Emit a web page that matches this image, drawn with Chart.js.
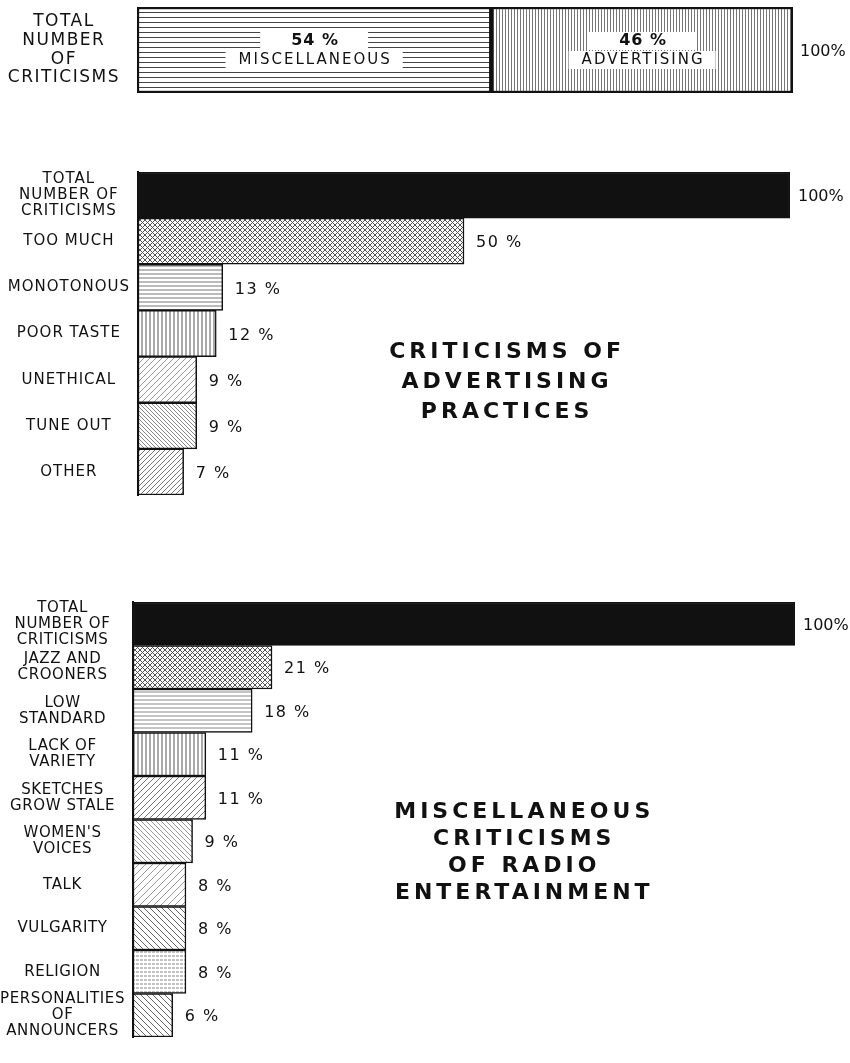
<!DOCTYPE html>
<html>
<head>
<meta charset="utf-8">
<script src="https://cdn.jsdelivr.net/npm/chart.js@4.4.1/dist/chart.umd.min.js"></script>
<style>
    body { margin: 0; background: #fff; }
    #page { position: relative; width: 850px; height: 1063px; overflow: hidden; }
    canvas { position: absolute; left: 0; }
</style>
</head>
<body>
<div id="page">
    <canvas id="split" width="850" height="105" style="top:0"></canvas>
    <canvas id="advertising" width="850" height="345" style="top:160px"></canvas>
    <canvas id="misc" width="850" height="473" style="top:590px"></canvas>
</div>
<script>
// top strip: how all criticisms split
const splitLabel = ['TOTAL', 'NUMBER', 'OF', 'CRITICISMS'];
const splitParts = ['MISCELLANEOUS', 'ADVERTISING'];
const splitShares = [54, 46];

// criticisms of advertising practices
const advLabels = [['TOTAL', 'NUMBER OF', 'CRITICISMS'], 'TOO MUCH', 'MONOTONOUS', 'POOR TASTE', 'UNETHICAL', 'TUNE OUT', 'OTHER'];
const advValues = [100, 50, 13, 12, 9, 9, 7];
const advTitle = ['CRITICISMS OF', 'ADVERTISING', 'PRACTICES'];

// miscellaneous criticisms of radio entertainment
const miscLabels = [['TOTAL', 'NUMBER OF', 'CRITICISMS'], ['JAZZ AND', 'CROONERS'], ['LOW', 'STANDARD'], ['LACK OF', 'VARIETY'],
    ['SKETCHES', 'GROW STALE'], ["WOMEN'S", 'VOICES'], 'TALK', 'VULGARITY', 'RELIGION', ['PERSONALITIES', 'OF', 'ANNOUNCERS']];
const miscValues = [100, 21, 18, 11, 11, 9, 8, 8, 8, 6];
const miscTitle = ['MISCELLANEOUS', 'CRITICISMS', 'OF RADIO', 'ENTERTAINMENT'];

const INK = '#111';
const FONT = 'DejaVu Sans';

// little hatch tiles standing in for the engraved shadings
const hatch = (kind, gap, color = '#333', width = 1, dash) => {
    const c = document.createElement('canvas');
    c.width = c.height = gap;
    const g = c.getContext('2d');
    g.fillStyle = '#fff';
    g.fillRect(0, 0, gap, gap);
    g.strokeStyle = color;
    g.lineWidth = width;
    if (dash) g.setLineDash(dash);
    g.beginPath();
    if (kind.includes('h')) { g.moveTo(0, gap / 2); g.lineTo(gap, gap / 2); }
    if (kind.includes('v')) { g.moveTo(gap / 2, 0); g.lineTo(gap / 2, gap); }
    if (kind.includes('/')) {
        g.moveTo(-1, gap + 1); g.lineTo(gap + 1, -1);
        g.moveTo(-1, 1); g.lineTo(1, -1);
        g.moveTo(gap - 1, gap + 1); g.lineTo(gap + 1, gap - 1);
    }
    if (kind.includes('\\')) {
        g.moveTo(-1, -1); g.lineTo(gap + 1, gap + 1);
        g.moveTo(gap - 1, -1); g.lineTo(gap + 1, 1);
        g.moveTo(-1, gap - 1); g.lineTo(1, gap + 1);
    }
    g.stroke();
    if (kind.includes('.')) {
        g.fillStyle = color;
        g.fillRect(1, 1, 1, 1);
    }
    return g.createPattern(c, 'repeat');
};

const splitFills = [hatch('h', 5, '#444'), hatch('v', 3, '#777')];
const advFills = [INK, hatch('/\\', 5, '#555'), hatch('h', 4, '#777'), hatch('v', 4, '#555'),
    hatch('/', 6, '#999'), hatch('\\.', 4, '#888'), hatch('/', 5, '#777')];
const miscFills = [INK, hatch('/\\', 5, '#555'), hatch('h', 4, '#888'), hatch('v', 4, '#555'), hatch('/', 6, '#777'),
    hatch('\\.', 5, '#999'), hatch('/', 7, '#999'), hatch('\\', 6, '#666'), hatch('h', 4, '#888', 1, [3, 2]), hatch('\\', 6, '#666')];

const pct = v => v === 100 ? '100%' : v + ' %';

const spacing = {
    id: 'spacing',
    beforeLayout: (chart, args, opts) => { chart.ctx.letterSpacing = opts.px; },
    beforeDraw: (chart, args, opts) => { chart.ctx.letterSpacing = opts.px; },
    defaults: { px: '1px' }
};

// percentages at the end of every bar
const valueLabels = {
    id: 'valueLabels',
    afterDatasetsDraw: (chart, args, opts) => {
        if (!opts.show) return;
        const { ctx } = chart;
        const values = chart.data.datasets[0].data;
        ctx.save();
        ctx.font = `16px ${FONT}`;
        ctx.fillStyle = INK;
        ctx.textBaseline = 'middle';
        chart.getDatasetMeta(0).data.forEach((bar, i) => {
            const total = values[i] === 100;
            ctx.letterSpacing = total ? '0px' : '1.5px';
            ctx.fillText(pct(values[i]), bar.x + (total ? 8 : 12), bar.y + 2);
        });
        ctx.restore();
    }
};

// big caption sitting in the empty part of the plot
const panelTitle = {
    id: 'panelTitle',
    afterDraw: (chart, args, opts) => {
        if (!opts.lines) return;
        const { ctx, chartArea: a } = chart;
        const x = a.left + opts.fx * (a.right - a.left);
        const y0 = a.top + opts.fy * (a.bottom - a.top) - (opts.lines.length - 1) * opts.lineHeight / 2;
        ctx.save();
        ctx.font = `bold 22px ${FONT}`;
        ctx.fillStyle = INK;
        ctx.textAlign = 'center';
        ctx.textBaseline = 'middle';
        ctx.letterSpacing = '4px';
        opts.lines.forEach((line, i) => ctx.fillText(line, x + 2, y0 + i * opts.lineHeight));
        ctx.restore();
    }
};

// words printed inside the two halves of the top strip
const insideLabels = {
    id: 'insideLabels',
    afterDatasetsDraw: (chart, args, opts) => {
        if (!opts.show) return;
        const { ctx } = chart;
        ctx.save();
        ctx.textAlign = 'center';
        ctx.textBaseline = 'middle';
        chart.data.datasets.forEach((ds, i) => {
            const bar = chart.getDatasetMeta(i).data[0];
            const cx = (bar.base + bar.x) / 2;
            const rows = [[pct(ds.data[0]), `bold 16px ${FONT}`, '1px', -9, 60], [ds.label, `15px ${FONT}`, '2px', 10, 24]];
            rows.forEach(([txt, font, ls, dy, pad]) => {
                ctx.font = font;
                ctx.letterSpacing = ls;
                const w = ctx.measureText(txt).width + pad;
                ctx.fillStyle = '#fff';
                ctx.fillRect(cx - w / 2, bar.y + dy - 9, w, 18);
                ctx.fillStyle = INK;
                ctx.fillText(txt, cx + 1, bar.y + dy);
            });
            if (i === chart.data.datasets.length - 1) {
                ctx.font = `16px ${FONT}`;
                ctx.letterSpacing = '0px';
                ctx.textAlign = 'left';
                ctx.fillText('100%', bar.x + 7, bar.y + 2);
                ctx.textAlign = 'center';
            }
        });
        ctx.restore();
    }
};

Chart.register(spacing, valueLabels, panelTitle, insideLabels);

const yAxis = (width, size, lineHeight, pad, border) => ({
    grid: { display: false, drawTicks: false },
    border: { display: border, color: INK, width: 2 },
    ticks: { autoSkip: false, crossAlign: 'center', padding: pad, color: INK, font: { family: FONT, size, lineHeight } },
    afterFit: scale => {
        scale.width = width;
        scale.paddingTop = 0;
        scale.paddingBottom = 0;
    }
});

const barChart = (id, labels, values, fills, right, padding, yWidth, ls, title) => new Chart(document.getElementById(id), {
    type: 'bar',
    data: {
        labels,
        datasets: [{
            data: values,
            backgroundColor: fills,
            borderColor: INK,
            borderWidth: 1.5,
            borderSkipped: false,
            barPercentage: 1,
            categoryPercentage: 1
        }]
    },
    options: {
        indexAxis: 'y',
        responsive: false,
        animation: false,
        layout: { padding: { top: padding[0], bottom: padding[1], right, left: 0 } },
        plugins: {
            legend: { display: false },
            tooltip: { enabled: false },
            spacing: { px: ls },
            valueLabels: { show: true },
            panelTitle: title
        },
        scales: {
            x: { display: false, min: 0, max: 100 },
            y: yAxis(yWidth, 15, 1.06, 8, true)
        }
    }
});

new Chart(document.getElementById('split'), {
    type: 'bar',
    data: {
        labels: [splitLabel],
        datasets: splitParts.map((name, i) => ({
            label: name,
            data: [splitShares[i]],
            backgroundColor: splitFills[i],
            borderColor: INK,
            borderWidth: 2.5,
            borderSkipped: false,
            barPercentage: 1,
            categoryPercentage: 1
        }))
    },
    options: {
        indexAxis: 'y',
        responsive: false,
        animation: false,
        layout: { padding: { top: 7, bottom: 12, right: 57, left: 0 } },
        plugins: {
            legend: { display: false },
            tooltip: { enabled: false },
            spacing: { px: '1.5px' },
            insideLabels: { show: true }
        },
        scales: {
            x: { display: false, stacked: true, min: 0, max: 100 },
            y: { ...yAxis(137, 17, 1.1, 17, false), stacked: true }
        }
    }
});

barChart('advertising', advLabels, advValues, advFills, 60, [12, 10], 138, '1px',
    { lines: advTitle, fx: 0.563, fy: 0.65, lineHeight: 30 });

barChart('misc', miscLabels, miscValues, miscFills, 55, [12, 26], 133, '0.6px',
    { lines: miscTitle, fx: 0.588, fy: 0.576, lineHeight: 27 });
</script>
</body>
</html>
